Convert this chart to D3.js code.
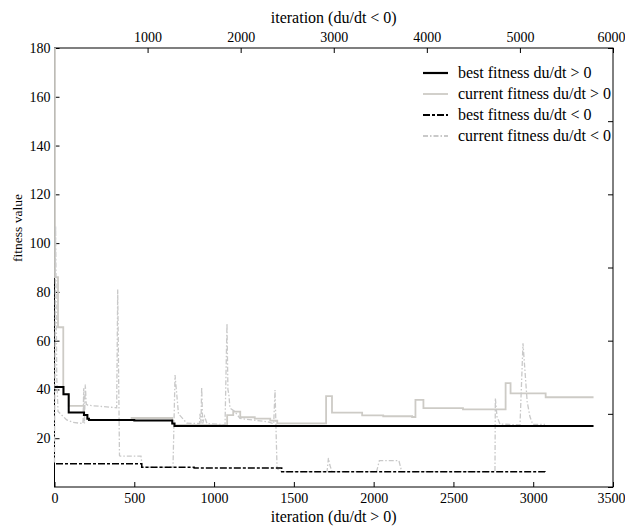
<!DOCTYPE html>
<html>
<head>
<meta charset="utf-8">
<script src="https://cdn.jsdelivr.net/npm/d3@7/dist/d3.min.js"></script>
<style>
  html, body { margin: 0; padding: 0; background: #ffffff; }
  svg { display: block; font-family: "Liberation Serif", "Times New Roman", serif; }
</style>
</head>
<body>
<svg id="chart" width="625" height="526"></svg>
<script>
// Best fitness, du/dt > 0 (bottom iteration axis)
const bestPosIter = [0, 56, 89, 185, 206, 216, 500, 738, 752, 3378];
const bestPosVal  = [41, 38, 30.5, 29.5, 28, 27.5, 27.3, 26, 25, 25];

// Current fitness, du/dt > 0 (bottom iteration axis)
const curPosIter = [0, 3, 22, 55, 58, 89, 185, 206, 216, 483, 738, 752, 1082, 1120, 1164, 1255, 1352, 1396,
                    1702, 1739, 1928, 2060, 2241, 2262, 2312, 2560, 2827, 2858, 3078, 3378];
const curPosVal  = [200, 86, 65.5, 41, 38, 33.3, 29.5, 28, 27.5, 28.3, 26, 25.4, 29.5, 30.9, 28.6, 28, 27.2, 26.1,
                    37.3, 30.5, 29.4, 29, 28.7, 35.7, 32.3, 31.8, 42.6, 38.4, 36.8, 36.8];

// Best fitness, du/dt < 0 (top iteration axis)
const bestNegIter = [16, 937, 1500, 2441, 5270];
const bestNegVal  = [9.5, 8.1, 7.8, 6.3, 6.2];

// Current fitness, du/dt < 0 (top iteration axis)
const curNegIter = [0, 12, 24, 38, 131, 200, 306, 314, 322, 331, 341, 360, 668, 679, 698, 704, 929, 944,
                    1273, 1295, 1332, 1420, 1557, 1563, 1574, 1581, 1592, 1612, 1638, 1832, 1853, 1863, 1873,
                    1885, 1935, 1993, 2280, 2355, 2369, 2391, 2444, 2928, 2943, 2958, 2981, 3460, 3490, 3700,
                    3730, 4732, 4736, 4754, 4786, 5001, 5033, 5078, 5108, 5138, 5270];
const curNegVal  = [10, 107, 45, 31, 27.5, 26.5, 26, 40.5, 26, 42, 34, 33.5, 32.5, 81, 13, 12.7, 12.7, 8.1,
                    8.1, 45.9, 30, 26.2, 26, 30, 26, 41, 26, 29, 26, 25.5, 67, 40, 38,
                    32.4, 31, 28.1, 26.8, 26, 39.8, 7.5, 6.3, 6.3, 11.9, 9, 6.3, 6.3, 10.8, 10.8,
                    6.3, 6.3, 36.5, 28.8, 25.8, 25.5, 58.9, 35, 28.8, 25.7, 25.7];

// Axis ticks
const bottomTicks = [0, 500, 1000, 1500, 2000, 2500, 3000, 3500];
const topTicks    = [1000, 2000, 3000, 4000, 5000, 6000];
const leftTicks   = [20, 40, 60, 80, 100, 120, 140, 160, 180];
const rightTicks  = [0, 30, 60, 90, 120, 150, 180];

const legendLabels = ["best fitness du/dt > 0", "current fitness du/dt > 0",
                      "best fitness du/dt < 0", "current fitness du/dt < 0"];

const margin = { top: 48, right: 12, bottom: 39, left: 54.5 };
const W = 625, H = 526;
const w = W - margin.left - margin.right;
const h = H - margin.top - margin.bottom;

const svg = d3.select("#chart");
const g = svg.append("g").attr("transform", `translate(${margin.left},${margin.top})`);

const xPos = d3.scaleLinear().domain([0, 3500]).range([0, w]);
const xNeg = d3.scaleLinear().domain([0, 6000]).range([0, w]);
const y = d3.scaleLinear().domain([0, 180]).range([h, 0]);
const yRight = d3.scaleLinear().domain([0, 180]).range([h, 0]);

const zip = (a, b) => a.map((v, i) => [v, b[i]]);

// frame
g.append("rect").attr("x", 0).attr("y", 0).attr("width", w).attr("height", h)
  .attr("fill", "none").attr("stroke", "#000").attr("stroke-width", 1);

const tickLen = 5;
const tickFont = 14;
const titleFont = 16;

// bottom axis (ticks point inward)
const bottomAxis = g.append("g").attr("transform", `translate(0,${h})`)
  .call(d3.axisBottom(xPos).tickValues(bottomTicks).tickSizeInner(-tickLen).tickSizeOuter(0).tickPadding(6).tickFormat(d3.format("d")));
// top axis
const topAxis = g.append("g")
  .call(d3.axisTop(xNeg).tickValues(topTicks).tickSizeInner(-tickLen).tickSizeOuter(0).tickPadding(6).tickFormat(d3.format("d")));
// left axis
const leftAxis = g.append("g")
  .call(d3.axisLeft(y).tickValues(leftTicks).tickSizeInner(-tickLen).tickSizeOuter(0).tickPadding(4).tickFormat(d3.format("d")));
// right axis, ticks only
const rightAxis = g.append("g").attr("transform", `translate(${w},0)`)
  .call(d3.axisRight(yRight).tickValues(rightTicks).tickSizeInner(-tickLen).tickSizeOuter(0).tickFormat(""));

[bottomAxis, topAxis, leftAxis, rightAxis].forEach(a => {
  a.select(".domain").remove();
  a.selectAll(".tick line").attr("stroke", "#000").attr("stroke-width", 1);
  a.selectAll("text").attr("font-family", "Liberation Serif, serif").attr("font-size", tickFont).attr("fill", "#000");
});
// keep the last labels inside the page edge
bottomAxis.selectAll(".tick text").filter(d => d === 3500).attr("dx", -2);
topAxis.selectAll(".tick text").filter(d => d === 6000).attr("dx", -2);

// axis titles
g.append("text").attr("x", w / 2).attr("y", h + 35).attr("text-anchor", "middle")
  .attr("font-size", titleFont).text("iteration (du/dt > 0)");
g.append("text").attr("x", w / 2).attr("y", -25).attr("text-anchor", "middle")
  .attr("font-size", titleFont).text("iteration (du/dt < 0)");
svg.append("text").attr("transform", `translate(22,228) rotate(-90)`).attr("text-anchor", "middle")
  .attr("font-size", 13.5).text("fitness value");

// data lines
svg.append("defs").append("clipPath").attr("id", "plotClip")
  .append("rect").attr("x", -2).attr("y", 0).attr("width", w + 2).attr("height", h);
const lines = g.append("g").attr("clip-path", "url(#plotClip)");

const stepPos = d3.line().x(d => xPos(d[0])).y(d => y(d[1])).curve(d3.curveStepAfter);
const stepNeg = d3.line().x(d => xNeg(d[0])).y(d => y(d[1])).curve(d3.curveStepAfter);
const linNeg  = d3.line().x(d => xNeg(d[0])).y(d => y(d[1]));

const styles = [
  { color: "#000000", width: 2,   dash: null },
  { color: "#cdcbc6", width: 1.8, dash: null },
  { color: "#000000", width: 1.5, dash: "7,2,3,2" },
  { color: "#c9c9c9", width: 1.3, dash: "5,2,1.5,2" }
];

lines.append("path").datum(zip(curPosIter, curPosVal)).attr("d", stepPos)
  .attr("fill", "none").attr("stroke", styles[1].color).attr("stroke-width", styles[1].width);
lines.append("path").datum(zip(curNegIter, curNegVal)).attr("d", linNeg)
  .attr("fill", "none").attr("stroke", styles[3].color).attr("stroke-width", styles[3].width).attr("stroke-dasharray", styles[3].dash);
lines.append("path").datum(zip(bestNegIter, bestNegVal)).attr("d", stepNeg)
  .attr("fill", "none").attr("stroke", styles[2].color).attr("stroke-width", styles[2].width).attr("stroke-dasharray", styles[2].dash);
lines.append("path").datum(zip(bestPosIter, bestPosVal)).attr("d", stepPos)
  .attr("fill", "none").attr("stroke", styles[0].color).attr("stroke-width", styles[0].width);

// legend
const legend = svg.append("g").attr("transform", "translate(423,73)");
legendLabels.forEach((label, i) => {
  const row = legend.append("g").attr("transform", `translate(0,${i * 21})`);
  row.append("line").attr("x1", 0).attr("x2", 25).attr("y1", 0).attr("y2", 0)
    .attr("stroke", styles[i].color).attr("stroke-width", styles[i].width === 2 ? 2.2 : 1.8)
    .attr("stroke-dasharray", styles[i].dash);
  row.append("text").attr("x", 35).attr("y", 5).attr("font-size", titleFont).text(label);
});
</script>
</body>
</html>
